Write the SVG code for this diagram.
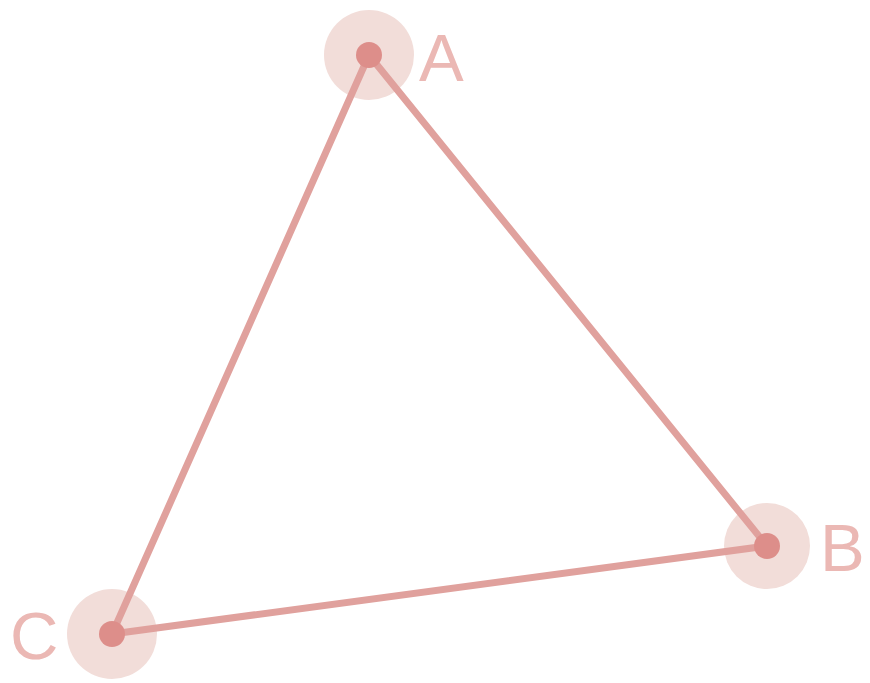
<svg xmlns="http://www.w3.org/2000/svg" width="870" height="683" viewBox="0 0 870 683">
<style>
.edge{stroke:#e0a19d;stroke-width:7;stroke-linecap:round;fill:none}
.halo{fill:#f2ddd9}
.dot{fill:#dd8e8a}
.lbl{font-family:"Liberation Sans",Arial,sans-serif;font-size:67px;fill:#ebb8b4}
</style>
<rect width="870" height="683" fill="#ffffff"/>
<g id="halos">
<circle class="halo" cx="369" cy="55" r="45"/>
<circle class="halo" cx="767" cy="546" r="43"/>
<circle class="halo" cx="112" cy="634" r="45"/>
</g>
<g id="connectors">
<line class="edge" x1="369" y1="55" x2="767" y2="546"/>
<line class="edge" x1="767" y1="546" x2="112" y2="634"/>
<line class="edge" x1="112" y1="634" x2="369" y2="55"/>
</g>
<g id="node-A"><circle class="dot" cx="369" cy="55" r="13"/><text class="lbl" x="419" y="81">A</text></g>
<g id="node-B"><circle class="dot" cx="767" cy="546" r="13"/><text class="lbl" x="820" y="571">B</text></g>
<g id="node-C"><circle class="dot" cx="112" cy="634" r="13"/><text class="lbl" x="10" y="659">C</text></g>
</svg>
